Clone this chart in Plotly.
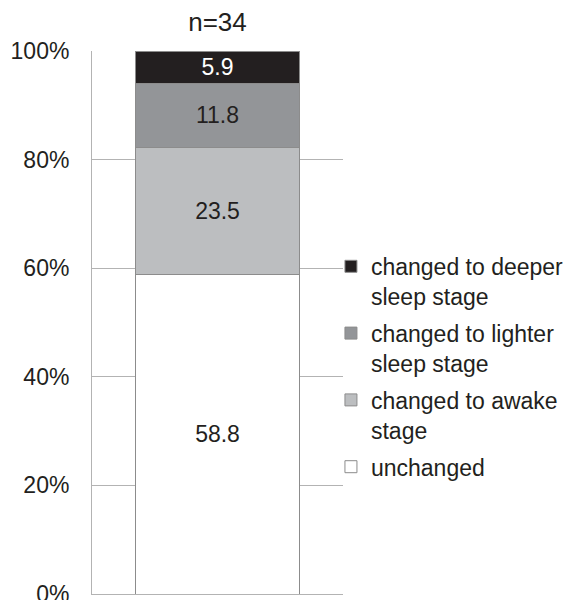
import plotly.graph_objects as go

# Share of recordings by stage change (percent), stacked bottom to top
categories = ["n=34"]
series_names = [
    "unchanged",
    "changed to awake<br>stage",
    "changed to lighter<br>sleep stage",
    "changed to deeper<br>sleep stage",
]
series_values = [58.8, 23.5, 11.8, 5.9]
fill_colors = ["#ffffff", "#bcbec0", "#939598", "#231f20"]
label_colors = ["#231f20", "#231f20", "#231f20", "#ffffff"]
tick_values = [0, 20, 40, 60, 80, 100]
tick_labels = ["0%", "20%", "40%", "60%", "80%", "100%"]

FONT = "Liberation Sans, Arial, sans-serif"
FS = 23

fig = go.Figure()
n = len(series_names)
for i, (name, val, col, tcol) in enumerate(zip(series_names, series_values, fill_colors, label_colors)):
    fig.add_trace(go.Bar(
        x=[0], y=[val], name=name,
        marker=dict(color=col, line=dict(color="#8c8c8c", width=1)),
        width=0.65,
        text=[f"{val:.1f}"], textposition="inside", insidetextanchor="middle",
        textfont=dict(color=tcol, size=FS, family=FONT),
        legendgroup=f"g{i}",
        legendrank=(n - i) * 10,  # top segment listed first
        hoverinfo="skip",
    ))

fig.update_layout(
    width=570, height=600,
    barmode="stack",
    plot_bgcolor="white", paper_bgcolor="white",
    margin=dict(l=92, r=227, t=51, b=6, autoexpand=False),
    font=dict(family=FONT, size=FS, color="#231f20"),
    title=dict(text=categories[0], x=217.5 / 570, xanchor="center",
               y=1 - 22 / 600, yanchor="middle",
               font=dict(size=26, family=FONT, color="#231f20")),
    showlegend=True,
    legend=dict(
        x=0.952, xanchor="left", y=0.643, yanchor="top",
        traceorder="grouped", valign="top",
        tracegroupgap=4,
        font=dict(size=FS, family=FONT, color="#231f20"),
        bgcolor="rgba(0,0,0,0)",
    ),
    uniformtext=dict(minsize=10, mode="show"),
)
fig.update_xaxes(range=[-0.5, 0.5], showticklabels=False, showgrid=False,
                 zeroline=False, showline=True, linecolor="#b3b3b3", linewidth=1)
fig.update_yaxes(range=[0, 100], tickvals=tick_values, ticktext=tick_labels,
                 showgrid=True, gridcolor="#b3b3b3", gridwidth=1, zeroline=False,
                 showline=True, linecolor="#b3b3b3", linewidth=1,
                 ticks="", ticklabelstandoff=17, ticklabeloverflow="allow",
                 tickfont=dict(size=FS, family=FONT, color="#231f20"))

fig.write_html("out.html")
